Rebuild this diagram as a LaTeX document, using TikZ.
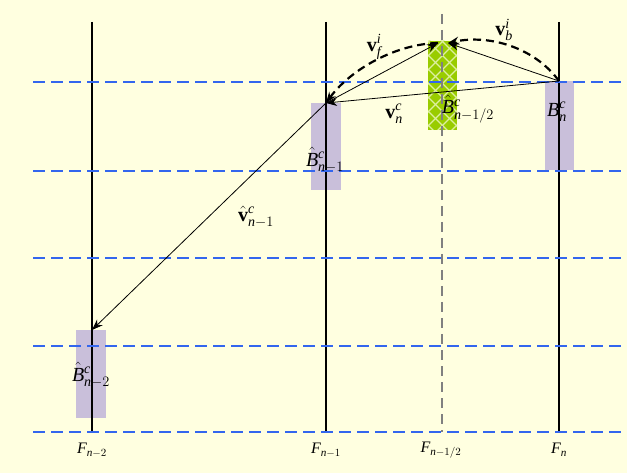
\documentclass[tikz,border=0pt]{standalone}
\usepackage{fontspec}
\setmainfont{Liberation Serif}
\usetikzlibrary{arrows.meta}
\definecolor{bgc}{HTML}{FFFFE0}
\definecolor{hblue}{HTML}{3366EE}
\definecolor{boxc}{HTML}{C9BFDA}
\definecolor{greenc}{HTML}{99CC00}
\definecolor{greenl}{HTML}{DDEFA0}
\newcommand{\mI}[1]{\mathit{#1}}
\newcommand{\vB}{\mathbf{v}}
\tikzset{
  hline/.style={hblue, line width=2.6pt, dash pattern=on 12pt off 6pt},
  vline/.style={black, line width=2.2pt},
  gline/.style={gray, line width=2.2pt, dash pattern=on 10pt off 6pt},
  arr/.style={-{Stealth[length=11pt,width=8pt]}, line width=0.8pt},
  darr/.style={-{Stealth[length=11pt,width=8pt]}, line width=2.2pt, dash pattern=on 8pt off 5pt},
  lbl/.style={font=\fontsize{20}{22}\selectfont, inner sep=0pt},
  flbl/.style={font=\fontsize{16}{18}\selectfont, inner sep=0pt}
}
\begin{document}
\begin{tikzpicture}[x=1pt,y=-1pt]
\fill[bgc] (0,0) rectangle (627,473);
\useasboundingbox (0,0) rectangle (627,473);
% boxes
\fill[boxc] (545,81) rectangle (574,170);
\fill[boxc] (311,103) rectangle (341,190);
\fill[boxc] (76,330) rectangle (106,418);
% green box
\fill[greenc] (428,41) rectangle (457,130);
\begin{scope}
\clip (428,41) rectangle (457,130);
\foreach \k in {-98,-84,...,140} {
  \draw[greenl, line width=1.4pt] (428,41+\k) -- (528,141+\k);
  \draw[greenl, line width=1.4pt] (457,41+\k) -- (357,141+\k);
}
\end{scope}
% vertical lines
\draw[vline] (92,22) -- (92,432);
\draw[vline] (326,22) -- (326,432);
\draw[vline] (559,22) -- (559,432);
\draw[gline] (442,14) -- (442,432);
% horizontal dashed
\foreach \y in {82,171,258,346,432} \draw[hline] (33,\y) -- (627,\y);
% anchor coordinates
\coordinate (Bn) at (559,81);
\coordinate (Bn1) at (326,103);
\coordinate (Bn2) at (92,330);
\coordinate (Tl) at (438,43);
\coordinate (Tr) at (448,43);
% arrows
\draw[arr] (Bn) -- (Bn1);
\draw[arr] (Bn1) -- (Bn2);
\draw[arr] (Bn1) -- (Tl);
\draw[arr] (Bn) -- (Tr);
\draw[darr] (Bn) .. controls (535,48) and (490,34) .. (Tr);
\draw[darr] (Tl) .. controls (395,44) and (350,70) .. (Bn1);
% labels
\node[lbl] (lvf) at (374,47) {$\vB_{\mI{f}}^{\mI{i}}$};
\node[lbl] (lvb) at (504,30) {$\vB_{\mI{b}}^{\mI{i}}$};
\node[lbl] (lvn) at (394,114) {$\vB_{\mI{n}}^{\mI{c}}$};
\node[lbl] (lbh) at (468,109) {$\hat{\mI{B}}_{\mI{n}-1/2}^{\mI{c}}$};
\node[lbl] (lbn) at (557,112) {$\mI{B}_{\mI{n}}^{\mI{c}}$};
\node[lbl] (lbn1) at (325,160) {$\hat{\mI{B}}_{\mI{n}-1}^{\mI{c}}$};
\node[lbl] (lvn1) at (256,217) {$\hat{\vB}_{\mI{n}-1}^{\mI{c}}$};
\node[lbl] (lbn2) at (91,375) {$\hat{\mI{B}}_{\mI{n}-2}^{\mI{c}}$};
\node[flbl] (f1) at (92,450) {$\mI{F}_{\mI{n}-2}$};
\node[flbl] (f2) at (326,450) {$\mI{F}_{\mI{n}-1}$};
\node[flbl] (f3) at (441,450) {$\mI{F}_{\mI{n}-1/2}$};
\node[flbl] (f4) at (559,450) {$\mI{F}_{\mI{n}}$};
\end{tikzpicture}
\end{document}
